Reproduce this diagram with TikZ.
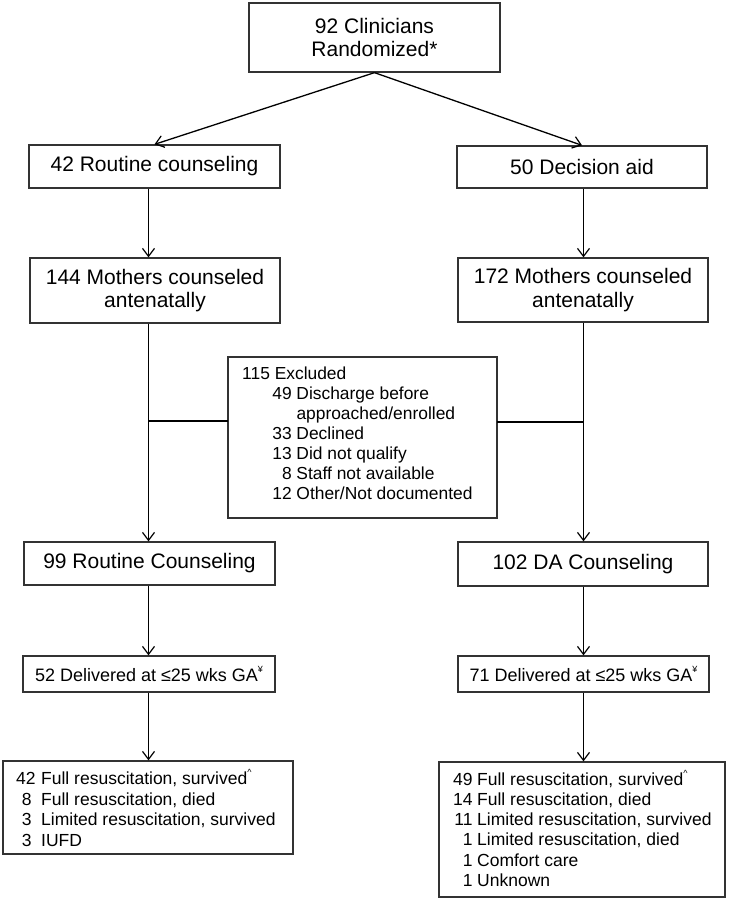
\documentclass[tikz,border=0pt]{standalone}
\usepackage{fontspec}
\setmainfont{Liberation Sans}
\usetikzlibrary{arrows.meta}
\newcommand\fbig{\fontsize{21}{23.5}\selectfont}
\newcommand\fmid{\fontsize{18}{22}\selectfont}
\newcommand\supsym[1]{\raisebox{0.5em}{\fontsize{9}{9}\selectfont #1}}
\newcommand\exrow[2]{\hspace*{30pt}\makebox[19.5pt][r]{#1}\hspace{4.8pt}#2}
\newcommand\lrow[2]{\makebox[25pt][l]{#1}#2}
\newcommand\rrow[2]{\makebox[20pt][r]{#1}\hspace{4.7pt}#2}
\begin{document}
\begin{tikzpicture}[x=1pt,y=-1pt,
  box/.style={draw=black!80,line width=1.3pt,inner sep=0pt,align=center},
  arr/.style={line width=1.3pt,-{Straight Barb[length=8pt,width=12pt,line width=1.2pt]}},
  conn/.style={line width=1.3pt},
  txt/.style={inner sep=0pt,anchor=base west}]
\useasboundingbox (0,0) rectangle (729,900);

% column guides
\coordinate (lx) at (148.5,0);
\coordinate (rx) at (583.5,0);

% boxes
\node[box,font=\fbig,minimum width=251pt,minimum height=69pt] (top) at (374.5,37.5) {92 Clinicians\\Randomized*};
\node[box,font=\fbig,minimum width=251pt,minimum height=43pt] (rc) at (154.5,166.5) {42 Routine counseling};
\node[box,font=\fbig,minimum width=250pt,minimum height=42pt] (da) at (582,167) {50 Decision aid};
\node[box,font=\fbig,minimum width=250pt,minimum height=65pt] (m1) at (155,290.5) {144 Mothers counseled\\antenatally};
\node[box,font=\fbig,minimum width=250pt,minimum height=64pt] (m2) at (583,290) {172 Mothers counseled\\antenatally};
\node[box,minimum width=269pt,minimum height=161pt] (ex) at (362.5,437.5) {};
\node[box,font=\fbig,minimum width=251pt,minimum height=43pt] (rc2) at (149.5,563.5) {99 Routine Counseling};
\node[box,font=\fbig,minimum width=250pt,minimum height=44pt] (da2) at (583,564) {102 DA Counseling};
\node[box,font=\fmid,minimum width=252pt,minimum height=36pt] (d1) at (149,674) {52 Delivered at ≤25 wks GA\supsym{¥}};
\node[box,font=\fmid,minimum width=251pt,minimum height=36pt] (d2) at (583.5,674) {71 Delivered at ≤25 wks GA\supsym{¥}};
\node[box,minimum width=290pt,minimum height=93pt] (o1) at (148,807.5) {};
\node[box,minimum width=286pt,minimum height=135pt] (o2) at (582,829.5) {};

% multi-line texts
\node[txt] (ext) at (242,379) {\fontsize{17.4}{20}\selectfont
\begin{tabular}[t]{@{}l@{}}
115 Excluded\\
\exrow{49}{Discharge before}\\
\exrow{}{approached/enrolled}\\
\exrow{33}{Declined}\\
\exrow{13}{Did not qualify}\\
\exrow{8}{Staff not available}\\
\exrow{12}{Other/Not documented}
\end{tabular}};

\node[txt] (o1t) at (16,784.3) {\fontsize{17.5}{20.7}\selectfont
\begin{tabular}[t]{@{}l@{}}
\lrow{42}{Full resuscitation, survived\supsym{\textasciicircum}}\\
\lrow{\hspace*{5.7pt}8}{Full resuscitation, died}\\
\lrow{\hspace*{5.7pt}3}{Limited resuscitation, survived}\\
\lrow{\hspace*{5.7pt}3}{IUFD}
\end{tabular}};

\node[txt] (o2t) at (452.3,785) {\fontsize{17.5}{20.3}\selectfont
\begin{tabular}[t]{@{}l@{}}
\rrow{49}{Full resuscitation, survived\supsym{\textasciicircum}}\\
\rrow{14}{Full resuscitation, died}\\
\rrow{11}{Limited resuscitation, survived}\\
\rrow{1}{Limited resuscitation, died}\\
\rrow{1}{Comfort care}\\
\rrow{1}{Unknown}
\end{tabular}};

% connectors
\draw[arr] (top.south) -- (rc.north);
\draw[arr] (top.south) -- (da.north);
\draw[arr] (rc.south -| lx) -- (m1.north -| lx);
\draw[arr] (da.south -| rx) -- (m2.north -| rx);
\draw[arr] (m1.south -| lx) -- (rc2.north -| lx);
\draw[arr] (m2.south -| rx) -- (da2.north -| rx);
\coordinate (exl) at (228,421);
\coordinate (exr) at (497,422);
\draw[conn] (exl) -- (exl -| lx);
\draw[conn] (exr) -- (exr -| rx);
\draw[arr] (rc2.south -| lx) -- (d1.north -| lx);
\draw[arr] (da2.south -| rx) -- (d2.north -| rx);
\draw[arr] (d1.south -| lx) -- (o1.north -| lx);
\draw[arr] (d2.south -| rx) -- (o2.north -| rx);
\end{tikzpicture}
\end{document}
